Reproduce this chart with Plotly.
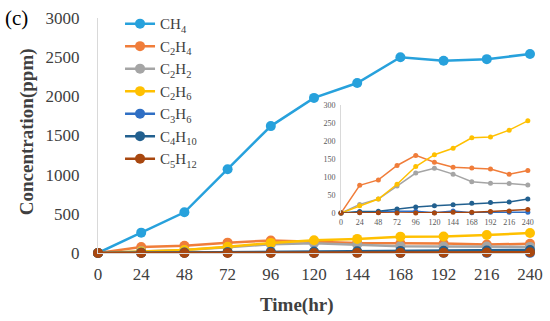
import plotly.graph_objects as go

hours = [0, 24, 48, 72, 96, 120, 144, 168, 192, 216, 240]
names = ["CH<sub>4</sub>", "C<sub>2</sub>H<sub>4</sub>", "C<sub>2</sub>H<sub>2</sub>",
         "C<sub>2</sub>H<sub>6</sub>", "C<sub>3</sub>H<sub>6</sub>",
         "C<sub>4</sub>H<sub>10</sub>", "C<sub>5</sub>H<sub>12</sub>"]
ch4 = [0, 260, 520, 1070, 1620, 1980, 2170, 2500, 2455, 2475, 2540]
c2h4 = [0, 77, 92, 132, 160, 141, 127, 125, 122, 108, 118]
c2h2 = [0, 24, 39, 75, 111, 124, 108, 87, 83, 82, 78]
c2h6 = [0, 20, 39, 80, 129, 162, 180, 209, 211, 230, 256]
c3h6 = [0, 2, 2, 5, 5, 1, 6, 1, 2, 2, 2]
c4h10 = [0, 4, 5, 11, 17, 20, 23, 27, 29, 31, 39]
c5h12 = [0, 1, 1, 0, 0, 0, 2, 2, 4, 6, 10]
series = [ch4, c2h4, c2h2, c2h6, c3h6, c4h10, c5h12]
colors = ["#27A1DC", "#F07D3A", "#A5A5A5", "#FFC000", "#2F6FC4", "#22608F", "#A8470F"]

main_yticks = [0, 500, 1000, 1500, 2000, 2500, 3000]
inset_yticks = [0, 50, 100, 150, 200, 250, 300]

font = "Liberation Serif"
fig = go.Figure()

for i in range(len(series)):
    fig.add_trace(go.Scatter(
        x=hours, y=series[i], name=names[i], mode="lines+markers",
        line=dict(color=colors[i], width=2.5),
        marker=dict(color=colors[i], size=10),
        cliponaxis=False, xaxis="x", yaxis="y"))

for i in range(1, len(series)):
    fig.add_trace(go.Scatter(
        x=hours, y=series[i], mode="lines+markers", showlegend=False,
        line=dict(color=colors[i], width=1.5),
        marker=dict(color=colors[i], size=5),
        cliponaxis=False, xaxis="x2", yaxis="y2"))

fig.update_layout(
    width=550, height=321,
    margin=dict(l=98, r=20, t=18, b=68, autoexpand=False),
    paper_bgcolor="white", plot_bgcolor="white",
    font=dict(family=font, color="#404040"),
    showlegend=True,
    legend=dict(x=0.051, y=0.977, xanchor="left", yanchor="top", yref="container",
                maxheight=1.0, traceorder="normal",
                font=dict(size=15, family=font, color="#404040"),
                bgcolor="rgba(0,0,0,0)", tracegroupgap=0, itemwidth=30),
    xaxis=dict(range=[0, 240], tickvals=hours, showgrid=False, zeroline=False,
               showline=True, linecolor="#D9D9D9", linewidth=1,
               tickfont=dict(size=17, color="#404040"), ticks="",
               ticklabelstandoff=6),
    yaxis=dict(range=[0, 3000], tickvals=main_yticks, showgrid=False, zeroline=False,
               showline=True, linecolor="#D9D9D9", linewidth=1,
               tickfont=dict(size=17, color="#404040"), ticks="",
               ticklabelstandoff=14),
    xaxis2=dict(domain=[0.5625, 0.995], anchor="y2", range=[0, 240], tickvals=hours,
                showgrid=False, zeroline=False, showline=False,
                tickfont=dict(size=8, color="#595959"), ticks="", ticklabelstandoff=3),
    yaxis2=dict(domain=[0.17, 0.63], anchor="x2", range=[0, 300], tickvals=inset_yticks,
                showgrid=False, zeroline=False, showline=True, linecolor="#D9D9D9",
                linewidth=1, tickfont=dict(size=8, color="#595959"), ticks="",
                ticklabelstandoff=3),
    annotations=[
        dict(text="(c)", xref="paper", yref="paper", x=-0.22, y=1.0,
             xanchor="left", yanchor="middle", showarrow=False,
             font=dict(size=21, color="black", family=font)),
        dict(text="<b>Concentration(ppm)</b>", xref="paper", yref="paper",
             x=-0.165, y=0.517, textangle=-90, xanchor="center", yanchor="middle",
             showarrow=False, font=dict(size=19, color="#404040", family=font)),
        dict(text="<b>Time(hr)</b>", xref="paper", yref="paper",
             x=0.46, y=-0.22, xanchor="center", yanchor="middle",
             showarrow=False, font=dict(size=19, color="#404040", family=font)),
    ],
)

fig.write_html("out.html", config={"displayModeBar": False},
               post_script="document.body.style.margin='0';")
